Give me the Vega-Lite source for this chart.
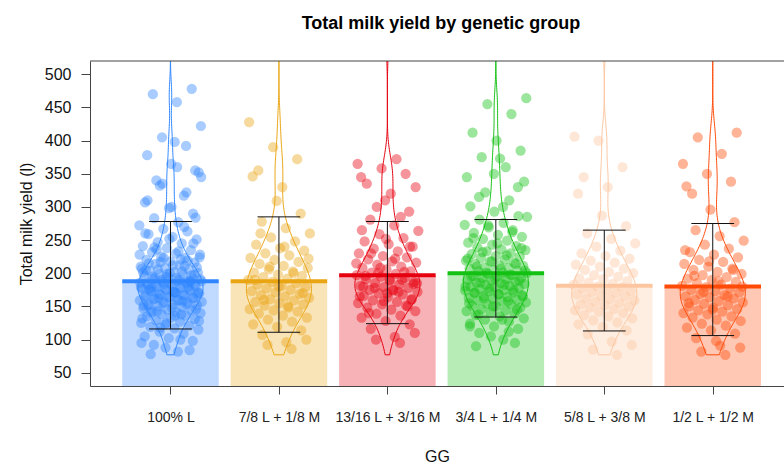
{
"$schema": "https://vega.github.io/schema/vega-lite/v6.json",
"autosize": "none",
"width": 694,
"height": 325,
"padding": {"left": 90, "top": 61, "right": 0, "bottom": 79},
"background": "white",
"view": {"stroke": null},
"config": {"font": "Liberation Sans"},
"title": {"text": "Total milk yield by genetic group", "fontSize": 18, "fontWeight": "bold", "font": "Liberation Sans", "color": "#000", "anchor": "middle", "frame": "group", "baseline": "alphabetic", "offset": 14, "dx": 4},
"datasets": {
"stats": [
{"g": 0, "mean": 188, "lo": 116, "hi": 278},
{"g": 1, "mean": 188, "lo": 111, "hi": 285},
{"g": 2, "mean": 197, "lo": 124, "hi": 278},
{"g": 3, "mean": 200, "lo": 134, "hi": 281},
{"g": 4, "mean": 181, "lo": 113, "hi": 265},
{"g": 5, "mean": 180, "lo": 106, "hi": 275}
],
"pts": [
{"g":0,"v":82},{"g":0,"v":92},{"g":0,"v":98},{"g":0,"v":102},{"g":0,"v":105},{"g":0,"v":109},{"g":0,"v":112},{"g":0,"v":115},{"g":0,"v":117},{"g":0,"v":119},
{"g":0,"v":121},{"g":0,"v":123},{"g":0,"v":125},{"g":0,"v":127},{"g":0,"v":129},{"g":0,"v":131},{"g":0,"v":133},{"g":0,"v":135},{"g":0,"v":136},{"g":0,"v":138},
{"g":0,"v":140},{"g":0,"v":141},{"g":0,"v":142},{"g":0,"v":144},{"g":0,"v":145},{"g":0,"v":147},{"g":0,"v":149},{"g":0,"v":150},{"g":0,"v":152},{"g":0,"v":153},
{"g":0,"v":154},{"g":0,"v":156},{"g":0,"v":157},{"g":0,"v":159},{"g":0,"v":160},{"g":0,"v":162},{"g":0,"v":163},{"g":0,"v":164},{"g":0,"v":165},{"g":0,"v":167},
{"g":0,"v":168},{"g":0,"v":170},{"g":0,"v":171},{"g":0,"v":173},{"g":0,"v":174},{"g":0,"v":175},{"g":0,"v":177},{"g":0,"v":178},{"g":0,"v":179},
{"g":0,"v":181},{"g":0,"v":182},{"g":0,"v":183},{"g":0,"v":185},{"g":0,"v":187},{"g":0,"v":188},{"g":0,"v":189},{"g":0,"v":191},{"g":0,"v":192},{"g":0,"v":194},
{"g":0,"v":196},{"g":0,"v":198},{"g":0,"v":199},{"g":0,"v":201},{"g":0,"v":202},{"g":0,"v":204},{"g":0,"v":206},{"g":0,"v":208},{"g":0,"v":210},{"g":0,"v":212},
{"g":0,"v":214},{"g":0,"v":216},{"g":0,"v":218},{"g":0,"v":220},{"g":0,"v":223},{"g":0,"v":225},{"g":0,"v":228},{"g":0,"v":230},{"g":0,"v":232},{"g":0,"v":235},
{"g":0,"v":238},{"g":0,"v":241},{"g":0,"v":245},{"g":0,"v":247},{"g":0,"v":251},{"g":0,"v":255},{"g":0,"v":259},{"g":0,"v":263},{"g":0,"v":267},{"g":0,"v":272},
{"g":0,"v":277},{"g":0,"v":283},{"g":0,"v":290},{"g":0,"v":298},{"g":0,"v":307},{"g":0,"v":317},{"g":0,"v":332},{"g":0,"v":352},{"g":0,"v":398},
{"g":0,"v":78},{"g":0,"v":84},{"g":0,"v":88},{"g":0,"v":95},{"g":0,"v":100},{"g":0,"v":340},{"g":0,"v":355},{"g":0,"v":365},{"g":0,"v":378},{"g":0,"v":392},
{"g":0,"v":405},{"g":0,"v":422},{"g":0,"v":458},{"g":0,"v":470},{"g":0,"v":478},{"g":0,"v":565},{"g":0,"v":151},{"g":0,"v":158},{"g":0,"v":163},{"g":0,"v":168},
{"g":0,"v":172},{"g":0,"v":176},{"g":0,"v":180},{"g":0,"v":184},{"g":0,"v":186},{"g":0,"v":190},{"g":0,"v":193},{"g":0,"v":197},{"g":0,"v":200},{"g":0,"v":205},
{"g":0,"v":211},{"g":0,"v":217},{"g":0,"v":224},{"g":0,"v":170},{"g":0,"v":178},{"g":0,"v":188},
{"g":0,"v":125},{"g":0,"v":132},{"g":0,"v":138},{"g":0,"v":143},{"g":0,"v":146},{"g":0,"v":148},{"g":0,"v":151},{"g":0,"v":153},{"g":0,"v":155},{"g":0,"v":157},
{"g":0,"v":159},{"g":0,"v":161},{"g":0,"v":162},{"g":0,"v":164},{"g":0,"v":166},{"g":0,"v":167},{"g":0,"v":169},{"g":0,"v":171},{"g":0,"v":172},{"g":0,"v":174},
{"g":0,"v":176},{"g":0,"v":177},{"g":0,"v":179},{"g":0,"v":180},{"g":0,"v":182},{"g":0,"v":183},{"g":0,"v":185},{"g":0,"v":186},{"g":0,"v":188},{"g":0,"v":190},
{"g":0,"v":191},{"g":0,"v":193},{"g":0,"v":195},{"g":0,"v":197},{"g":0,"v":199},{"g":0,"v":201},{"g":0,"v":203},{"g":0,"v":206},{"g":0,"v":209},{"g":0,"v":212},
{"g":0,"v":215},{"g":0,"v":219},{"g":0,"v":223},{"g":0,"v":228},{"g":0,"v":233},{"g":0,"v":239},{"g":0,"v":245},{"g":0,"v":252},{"g":0,"v":260},{"g":0,"v":270},
{"g":0,"v":118},{"g":0,"v":128},{"g":0,"v":136},{"g":0,"v":141},{"g":0,"v":187},{"g":0,"v":194},{"g":0,"v":207},{"g":0,"v":221},{"g":0,"v":236},{"g":0,"v":284},
{"g":0,"v":300},{"g":0,"v":310},{"g":0,"v":322},{"g":0,"v":335},{"g":0,"v":345},{"g":0,"v":360},
{"g":1,"v":96},{"g":1,"v":107},{"g":1,"v":114},{"g":1,"v":119},{"g":1,"v":123},{"g":1,"v":127},{"g":1,"v":130},{"g":1,"v":133},{"g":1,"v":136},{"g":1,"v":139},
{"g":1,"v":142},{"g":1,"v":144},{"g":1,"v":146},{"g":1,"v":148},{"g":1,"v":151},{"g":1,"v":153},{"g":1,"v":155},{"g":1,"v":157},{"g":1,"v":159},{"g":1,"v":161},
{"g":1,"v":163},{"g":1,"v":165},{"g":1,"v":167},{"g":1,"v":169},{"g":1,"v":171},{"g":1,"v":173},{"g":1,"v":175},{"g":1,"v":177},{"g":1,"v":179},{"g":1,"v":181},
{"g":1,"v":183},{"g":1,"v":185},{"g":1,"v":187},{"g":1,"v":190},{"g":1,"v":192},{"g":1,"v":194},{"g":1,"v":196},{"g":1,"v":198},{"g":1,"v":201},{"g":1,"v":203},
{"g":1,"v":206},{"g":1,"v":208},{"g":1,"v":211},{"g":1,"v":214},{"g":1,"v":217},{"g":1,"v":220},{"g":1,"v":223},{"g":1,"v":227},{"g":1,"v":230},{"g":1,"v":234},
{"g":1,"v":238},{"g":1,"v":243},{"g":1,"v":248},{"g":1,"v":254},{"g":1,"v":260},{"g":1,"v":268},{"g":1,"v":278},{"g":1,"v":290},{"g":1,"v":309},{"g":1,"v":346},
{"g":1,"v":86},{"g":1,"v":92},{"g":1,"v":100},{"g":1,"v":330},{"g":1,"v":355},{"g":1,"v":372},{"g":1,"v":390},{"g":1,"v":428},
{"g":1,"v":150},{"g":1,"v":160},{"g":1,"v":170},{"g":1,"v":180},{"g":1,"v":190},{"g":1,"v":200},{"g":1,"v":210},{"g":1,"v":222},{"g":1,"v":240},{"g":1,"v":260},
{"g":2,"v":104},{"g":2,"v":116},{"g":2,"v":123},{"g":2,"v":128},{"g":2,"v":133},{"g":2,"v":136},{"g":2,"v":139},{"g":2,"v":143},{"g":2,"v":145},{"g":2,"v":148},
{"g":2,"v":151},{"g":2,"v":153},{"g":2,"v":155},{"g":2,"v":157},{"g":2,"v":159},{"g":2,"v":161},{"g":2,"v":164},{"g":2,"v":166},{"g":2,"v":168},{"g":2,"v":170},
{"g":2,"v":172},{"g":2,"v":174},{"g":2,"v":175},{"g":2,"v":178},{"g":2,"v":179},{"g":2,"v":181},{"g":2,"v":183},{"g":2,"v":185},{"g":2,"v":187},{"g":2,"v":189},
{"g":2,"v":191},{"g":2,"v":193},{"g":2,"v":195},{"g":2,"v":197},{"g":2,"v":199},{"g":2,"v":201},{"g":2,"v":203},{"g":2,"v":206},{"g":2,"v":208},{"g":2,"v":210},
{"g":2,"v":213},{"g":2,"v":216},{"g":2,"v":218},{"g":2,"v":221},{"g":2,"v":224},{"g":2,"v":226},{"g":2,"v":230},{"g":2,"v":233},{"g":2,"v":237},{"g":2,"v":240},
{"g":2,"v":244},{"g":2,"v":248},{"g":2,"v":253},{"g":2,"v":259},{"g":2,"v":264},{"g":2,"v":272},{"g":2,"v":281},{"g":2,"v":293},{"g":2,"v":310},{"g":2,"v":345},
{"g":2,"v":95},{"g":2,"v":100},{"g":2,"v":110},{"g":2,"v":320},{"g":2,"v":335},{"g":2,"v":350},{"g":2,"v":358},{"g":2,"v":365},{"g":2,"v":372},{"g":2,"v":540},
{"g":2,"v":160},{"g":2,"v":170},{"g":2,"v":180},{"g":2,"v":190},{"g":2,"v":200},{"g":2,"v":185},{"g":2,"v":175},
{"g":2,"v":140},{"g":2,"v":150},{"g":2,"v":158},{"g":2,"v":165},{"g":2,"v":172},{"g":2,"v":178},{"g":2,"v":184},{"g":2,"v":190},{"g":2,"v":196},{"g":2,"v":202},
{"g":2,"v":208},{"g":2,"v":215},{"g":2,"v":222},{"g":2,"v":230},{"g":2,"v":240},{"g":2,"v":252},{"g":2,"v":265},{"g":2,"v":285},{"g":2,"v":300},{"g":2,"v":330},
{"g":3,"v":100},{"g":3,"v":110},{"g":3,"v":116},{"g":3,"v":120},{"g":3,"v":124},{"g":3,"v":127},{"g":3,"v":130},{"g":3,"v":132},{"g":3,"v":135},{"g":3,"v":137},
{"g":3,"v":139},{"g":3,"v":141},{"g":3,"v":143},{"g":3,"v":144},{"g":3,"v":146},{"g":3,"v":148},{"g":3,"v":150},{"g":3,"v":151},{"g":3,"v":153},{"g":3,"v":154},
{"g":3,"v":156},{"g":3,"v":158},{"g":3,"v":159},{"g":3,"v":160},{"g":3,"v":162},{"g":3,"v":163},{"g":3,"v":164},{"g":3,"v":166},{"g":3,"v":167},{"g":3,"v":169},
{"g":3,"v":170},{"g":3,"v":171},{"g":3,"v":173},{"g":3,"v":174},{"g":3,"v":175},{"g":3,"v":176},{"g":3,"v":178},{"g":3,"v":179},{"g":3,"v":180},{"g":3,"v":181},
{"g":3,"v":183},{"g":3,"v":184},{"g":3,"v":185},{"g":3,"v":186},{"g":3,"v":187},{"g":3,"v":189},{"g":3,"v":190},{"g":3,"v":191},{"g":3,"v":193},
{"g":3,"v":193},{"g":3,"v":195},{"g":3,"v":196},{"g":3,"v":197},{"g":3,"v":199},{"g":3,"v":200},{"g":3,"v":201},{"g":3,"v":203},{"g":3,"v":204},{"g":3,"v":205},
{"g":3,"v":207},{"g":3,"v":208},{"g":3,"v":209},{"g":3,"v":211},{"g":3,"v":212},{"g":3,"v":214},{"g":3,"v":216},{"g":3,"v":218},{"g":3,"v":219},{"g":3,"v":221},
{"g":3,"v":223},{"g":3,"v":225},{"g":3,"v":226},{"g":3,"v":229},{"g":3,"v":230},{"g":3,"v":233},{"g":3,"v":235},{"g":3,"v":236},{"g":3,"v":239},{"g":3,"v":241},
{"g":3,"v":243},{"g":3,"v":246},{"g":3,"v":249},{"g":3,"v":252},{"g":3,"v":255},{"g":3,"v":258},{"g":3,"v":261},{"g":3,"v":265},{"g":3,"v":269},{"g":3,"v":273},
{"g":3,"v":276},{"g":3,"v":281},{"g":3,"v":286},{"g":3,"v":293},{"g":3,"v":301},{"g":3,"v":310},{"g":3,"v":322},{"g":3,"v":338},{"g":3,"v":373},
{"g":3,"v":90},{"g":3,"v":95},{"g":3,"v":105},{"g":3,"v":345},{"g":3,"v":360},{"g":3,"v":375},{"g":3,"v":385},{"g":3,"v":400},{"g":3,"v":412},{"g":3,"v":440},{"g":3,"v":455},{"g":3,"v":464},
{"g":3,"v":130},{"g":3,"v":138},{"g":3,"v":145},{"g":3,"v":150},{"g":3,"v":155},{"g":3,"v":158},{"g":3,"v":162},{"g":3,"v":165},{"g":3,"v":168},{"g":3,"v":171},
{"g":3,"v":174},{"g":3,"v":177},{"g":3,"v":180},{"g":3,"v":183},{"g":3,"v":186},{"g":3,"v":189},{"g":3,"v":192},{"g":3,"v":195},{"g":3,"v":198},{"g":3,"v":201},
{"g":3,"v":204},{"g":3,"v":207},{"g":3,"v":210},{"g":3,"v":214},{"g":3,"v":218},{"g":3,"v":222},{"g":3,"v":227},{"g":3,"v":232},{"g":3,"v":238},{"g":3,"v":245},
{"g":3,"v":253},{"g":3,"v":262},{"g":3,"v":272},{"g":3,"v":285},{"g":3,"v":300},{"g":3,"v":315},{"g":3,"v":330},{"g":3,"v":350},{"g":3,"v":120},{"g":3,"v":112},
{"g":4,"v":97},{"g":4,"v":108},{"g":4,"v":114},{"g":4,"v":119},{"g":4,"v":123},{"g":4,"v":126},{"g":4,"v":129},{"g":4,"v":132},{"g":4,"v":135},{"g":4,"v":137},
{"g":4,"v":140},{"g":4,"v":142},{"g":4,"v":144},{"g":4,"v":146},{"g":4,"v":148},{"g":4,"v":150},{"g":4,"v":152},{"g":4,"v":153},{"g":4,"v":155},{"g":4,"v":157},
{"g":4,"v":159},{"g":4,"v":161},{"g":4,"v":162},{"g":4,"v":165},{"g":4,"v":166},{"g":4,"v":168},{"g":4,"v":170},{"g":4,"v":172},{"g":4,"v":173},{"g":4,"v":175},
{"g":4,"v":177},{"g":4,"v":179},{"g":4,"v":180},{"g":4,"v":183},{"g":4,"v":184},{"g":4,"v":186},{"g":4,"v":188},{"g":4,"v":191},{"g":4,"v":192},{"g":4,"v":195},
{"g":4,"v":197},{"g":4,"v":200},{"g":4,"v":202},{"g":4,"v":205},{"g":4,"v":207},{"g":4,"v":210},{"g":4,"v":213},{"g":4,"v":216},{"g":4,"v":219},{"g":4,"v":222},
{"g":4,"v":226},{"g":4,"v":230},{"g":4,"v":234},{"g":4,"v":240},{"g":4,"v":245},{"g":4,"v":252},{"g":4,"v":260},{"g":4,"v":271},{"g":4,"v":287},{"g":4,"v":320},
{"g":4,"v":77},{"g":4,"v":85},{"g":4,"v":92},{"g":4,"v":330},{"g":4,"v":345},{"g":4,"v":360},{"g":4,"v":400},{"g":4,"v":406},{"g":4,"v":545},
{"g":5,"v":91},{"g":5,"v":102},{"g":5,"v":109},{"g":5,"v":114},{"g":5,"v":118},{"g":5,"v":121},{"g":5,"v":124},{"g":5,"v":128},{"g":5,"v":130},{"g":5,"v":133},
{"g":5,"v":135},{"g":5,"v":138},{"g":5,"v":140},{"g":5,"v":142},{"g":5,"v":144},{"g":5,"v":146},{"g":5,"v":148},{"g":5,"v":150},{"g":5,"v":152},{"g":5,"v":154},
{"g":5,"v":156},{"g":5,"v":158},{"g":5,"v":160},{"g":5,"v":162},{"g":5,"v":164},{"g":5,"v":165},{"g":5,"v":167},{"g":5,"v":169},{"g":5,"v":171},{"g":5,"v":173},
{"g":5,"v":175},{"g":5,"v":177},{"g":5,"v":179},{"g":5,"v":181},{"g":5,"v":183},{"g":5,"v":185},{"g":5,"v":187},{"g":5,"v":190},{"g":5,"v":192},{"g":5,"v":194},
{"g":5,"v":197},{"g":5,"v":199},{"g":5,"v":202},{"g":5,"v":205},{"g":5,"v":207},{"g":5,"v":210},{"g":5,"v":214},{"g":5,"v":217},{"g":5,"v":220},{"g":5,"v":224},
{"g":5,"v":228},{"g":5,"v":232},{"g":5,"v":237},{"g":5,"v":243},{"g":5,"v":249},{"g":5,"v":256},{"g":5,"v":265},{"g":5,"v":277},{"g":5,"v":296},{"g":5,"v":331},
{"g":5,"v":77},{"g":5,"v":82},{"g":5,"v":88},{"g":5,"v":98},{"g":5,"v":320},{"g":5,"v":338},{"g":5,"v":350},{"g":5,"v":365},{"g":5,"v":380},{"g":5,"v":405},{"g":5,"v":412},
{"g":5,"v":145},{"g":5,"v":155},{"g":5,"v":165},{"g":5,"v":172},{"g":5,"v":180},{"g":5,"v":188},{"g":5,"v":196},{"g":5,"v":205},{"g":5,"v":218},{"g":5,"v":235}
]
},
"layer": [
{
"data": {"name": "stats"},
"transform": [{"calculate": "datum.g - 0.445", "as": "bx1"}, {"calculate": "datum.g + 0.445", "as": "bx2"}],
"mark": {"type": "rect", "opacity": 0.3, "clip": true},
"encoding": {
"x": {"field": "bx1", "type": "quantitative", "scale": {"domain": [-0.742, 5.657], "nice": false, "zero": false},
"axis": {"values": [0, 1, 2, 3, 4, 5], "tickCount": 12, "labelExpr": "['100% L','7/8 L + 1/8 M','13/16 L + 3/16 M','3/4 L + 1/4 M','5/8 L + 3/8 M','1/2 L + 1/2 M'][datum.value]", "title": "GG", "grid": false, "domainColor": "#444", "tickColor": "#444", "tickSize": 8, "labelFontSize": 14, "labelColor": "#222", "labelPadding": 16, "labelFont": "Liberation Sans", "titleFont": "Liberation Sans", "titleFontSize": 16, "titleFontWeight": "normal", "titleColor": "#111", "titlePadding": 24, "labelOverlap": false}},
"x2": {"field": "bx2"},
"y": {"field": "mean", "type": "quantitative", "scale": {"domain": [30, 520], "nice": false, "zero": false},
"axis": {"values": [50, 100, 150, 200, 250, 300, 350, 400, 450, 500], "tickCount": 20, "labelOverlap": false, "title": "Total milk yield (l)", "grid": false, "domainColor": "#444", "tickColor": "#444", "tickSize": 9, "labelFontSize": 16, "labelColor": "#111", "labelPadding": 10, "labelFont": "Liberation Sans", "titleFont": "Liberation Sans", "titleFontSize": 16, "titleFontWeight": "normal", "titleColor": "#111", "titlePadding": 10}},
"y2": {"datum": 0},
"color": {"field": "g", "type": "nominal", "scale": {"domain": [0, 1, 2, 3, 4, 5], "range": ["#2F86FF", "#EAA512", "#E6000F", "#12C112", "#FDC6A0", "#FF4A08"]}, "legend": null}
}
},
{
"data": {"name": "pts"},
"transform": [
{"window": [{"op": "row_number", "as": "rn"}], "groupby": ["g"]},
{"calculate": "datum.g + ((datum.rn * 0.6180339887) % 1 - 0.5) * 0.58", "as": "px"}
],
"mark": {"type": "circle", "size": 105, "opacity": 0.42, "clip": true},
"encoding": {
"x": {"field": "px", "type": "quantitative"},
"y": {"field": "v", "type": "quantitative"},
"color": {"field": "g", "type": "nominal", "legend": null}
}
},
{
"data": {"name": "pts"},
"transform": [
{"density": "v", "groupby": ["g"], "steps": 200},
{"joinaggregate": [{"op": "max", "field": "density", "as": "dmax"}], "groupby": ["g"]},
{"calculate": "datum.g - 0.3 * datum.density / datum.dmax", "as": "vx1"},
{"calculate": "datum.g + 0.3 * datum.density / datum.dmax", "as": "vx2"}
],
"mark": {"type": "area", "orient": "horizontal", "filled": false, "strokeWidth": 1, "clip": true},
"encoding": {
"y": {"field": "value", "type": "quantitative"},
"x": {"field": "vx1", "type": "quantitative"},
"x2": {"field": "vx2"},
"color": {"field": "g", "type": "nominal", "legend": null}
}
},
{
"data": {"name": "stats"},
"transform": [{"calculate": "datum.g - 0.445", "as": "bx1"}, {"calculate": "datum.g + 0.445", "as": "bx2"}],
"mark": {"type": "rule", "strokeWidth": 4},
"encoding": {
"x": {"field": "bx1", "type": "quantitative"},
"x2": {"field": "bx2"},
"y": {"field": "mean", "type": "quantitative"},
"color": {"field": "g", "type": "nominal", "legend": null}
}
},
{
"data": {"name": "stats"},
"mark": {"type": "rule", "color": "#111", "strokeWidth": 1},
"encoding": {
"x": {"field": "g", "type": "quantitative"},
"y": {"field": "lo", "type": "quantitative"},
"y2": {"field": "hi"}
}
},
{
"data": {"name": "stats"},
"transform": [{"calculate": "datum.g - 0.197", "as": "cx1"}, {"calculate": "datum.g + 0.197", "as": "cx2"}],
"mark": {"type": "rule", "color": "#111", "strokeWidth": 1},
"encoding": {
"x": {"field": "cx1", "type": "quantitative"},
"x2": {"field": "cx2"},
"y": {"field": "lo", "type": "quantitative"}
}
},
{
"data": {"name": "stats"},
"transform": [{"calculate": "datum.g - 0.197", "as": "cx1"}, {"calculate": "datum.g + 0.197", "as": "cx2"}],
"mark": {"type": "rule", "color": "#111", "strokeWidth": 1},
"encoding": {
"x": {"field": "cx1", "type": "quantitative"},
"x2": {"field": "cx2"},
"y": {"field": "hi", "type": "quantitative"}
}
},
{
"data": {"values": [{}]},
"mark": {"type": "rule", "color": "#444", "strokeWidth": 1},
"encoding": {"y": {"datum": 520}}
}
]
}
